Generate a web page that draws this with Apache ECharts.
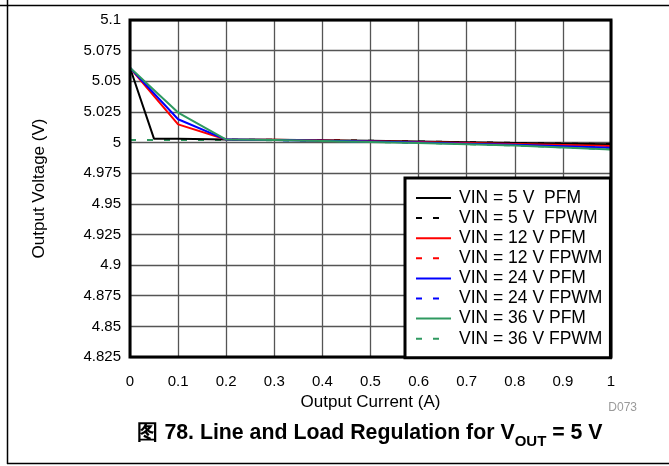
<!DOCTYPE html>
<html>
<head>
<meta charset="utf-8">
<script src="https://cdn.jsdelivr.net/npm/echarts@6/dist/echarts.min.js"></script>
<style>
  html, body { margin: 0; padding: 0; background: #fff; }
  #chart { width: 669px; height: 466px; }
</style>
</head>
<body>
<div id="chart"></div>
<script>
// Output current (A) sample points
const currentPfm5 = [0, 0.05, 0.1, 0.2, 0.3, 0.4, 0.5, 0.6, 0.7, 0.8, 0.9, 1.0];
const currentStd  = [0, 0.1, 0.2, 0.3, 0.4, 0.5, 0.6, 0.7, 0.8, 0.9, 1.0];

// Output voltage (V) for each input voltage and mode
const vin5Pfm   = [5.061, 5.003, 5.003, 5.0025, 5.0023, 5.0019, 5.0014, 5.0008, 5.0002, 4.9996, 4.9991, 4.9987];
const vin5Fpwm  = [5.002, 5.002, 5.0022, 5.0022, 5.002, 5.0015, 5.0009, 5.0003, 4.9997, 4.9992, 4.9987];
const vin12Pfm  = [5.061, 5.0148, 5.0025, 5.0022, 5.0017, 5.0011, 5.0004, 4.9997, 4.9989, 4.998, 4.9971];
const vin12Fpwm = [5.002, 5.002, 5.0022, 5.0021, 5.0018, 5.0012, 5.0005, 4.9998, 4.999, 4.9981, 4.9972];
const vin24Pfm  = [5.061, 5.019, 5.0024, 5.0021, 5.0015, 5.0008, 5.0, 4.9991, 4.9982, 4.9969, 4.9957];
const vin24Fpwm = [5.002, 5.002, 5.0022, 5.002, 5.0016, 5.0009, 5.0001, 4.9992, 4.9983, 4.997, 4.9958];
const vin36Pfm  = [5.061, 5.0245, 5.0024, 5.002, 5.0013, 5.0005, 4.9996, 4.9986, 4.9975, 4.996, 4.9944];
const vin36Fpwm = [5.002, 5.002, 5.0021, 5.0019, 5.0014, 5.0006, 4.9997, 4.9987, 4.9976, 4.9961, 4.9945];

// Axis ranges
const xTicks = { min: 0, max: 1, step: 0.1 };
const yTicks = { min: 4.825, max: 5.1, step: 0.025 };

const seriesNames = [
  'VIN = 5 V  PFM', 'VIN = 5 V  FPWM',
  'VIN = 12 V PFM', 'VIN = 12 V FPWM',
  'VIN = 24 V PFM', 'VIN = 24 V FPWM',
  'VIN = 36 V PFM', 'VIN = 36 V FPWM'
];

const pair = (xs, ys) => xs.map((x, i) => [x, ys[i]]);

const BLACK = '#000000', RED = '#ff0000', BLUE = '#0000ff', GREEN = '#2f9960';
const FONT = 'Liberation Sans';
const DASH = [6, 11];

function lineSeries(name, data, color, dashed, z) {
  return {
    name, type: 'line', data, symbol: 'none', z,
    lineStyle: { color, width: 2, type: dashed ? DASH : 'solid' },
    itemStyle: { color }
  };
}

// legend entries: dashed ones show exactly two dashes
const legendData = seriesNames.map((name, i) =>
  i % 2 === 1 ? { name, lineStyle: { type: [6, 11, 6, 40] } } : { name }
);

const chart = echarts.init(document.getElementById('chart'), null, { renderer: 'canvas' });

chart.setOption({
  animation: false,
  backgroundColor: '#fff',
  grid: {
    left: 130, right: 58, top: 20, bottom: 109,
    show: true, borderColor: '#000', borderWidth: 3, backgroundColor: 'transparent', z: 10
  },
  xAxis: {
    type: 'value', min: xTicks.min, max: xTicks.max, interval: xTicks.step,
    name: 'Output Current (A)', nameLocation: 'middle', nameGap: 32,
    nameTextStyle: { fontFamily: FONT, fontSize: 17, color: '#000' },
    axisLine: { show: false }, axisTick: { show: false },
    axisLabel: {
      fontFamily: FONT, fontSize: 15, color: '#000', margin: 17,
      formatter: v => String(+v.toFixed(1))
    },
    splitLine: { show: true, lineStyle: { color: '#555', width: 1.3 } }
  },
  yAxis: {
    type: 'value', min: yTicks.min, max: yTicks.max, interval: yTicks.step,
    name: 'Output Voltage (V)', nameLocation: 'middle', nameGap: 82,
    nameTextStyle: { fontFamily: FONT, fontSize: 17, color: '#000' },
    axisLine: { show: false }, axisTick: { show: false },
    axisLabel: {
      fontFamily: FONT, fontSize: 15, color: '#000', margin: 9,
      formatter: v => String(+v.toFixed(3))
    },
    splitLine: { show: true, lineStyle: { color: '#555', width: 1.3 } }
  },
  legend: {
    orient: 'vertical', left: 405, top: 178,
    data: legendData,
    backgroundColor: '#fff', borderColor: '#000', borderWidth: 3,
    padding: [11, 8, 10, 10],
    itemWidth: 35, itemHeight: 14, itemGap: 2.1,
    itemStyle: { opacity: 0 },
    lineStyle: { width: 2 },
    textStyle: { fontFamily: FONT, fontSize: 17.5, color: '#000', padding: [0, 0, 0, 3] },
    z: 20
  },
  series: [
    lineSeries(seriesNames[1], pair(currentStd, vin5Fpwm), BLACK, true, 2),
    lineSeries(seriesNames[3], pair(currentStd, vin12Fpwm), RED, true, 2),
    lineSeries(seriesNames[5], pair(currentStd, vin24Fpwm), BLUE, true, 2),
    lineSeries(seriesNames[7], pair(currentStd, vin36Fpwm), GREEN, true, 2),
    lineSeries(seriesNames[0], pair(currentPfm5, vin5Pfm), BLACK, false, 3),
    lineSeries(seriesNames[2], pair(currentStd, vin12Pfm), RED, false, 3),
    lineSeries(seriesNames[4], pair(currentStd, vin24Pfm), BLUE, false, 3),
    lineSeries(seriesNames[6], pair(currentStd, vin36Pfm), GREEN, false, 3)
  ],
  graphic: [
    // page frame
    { type: 'line', shape: { x1: 0, y1: 5.5, x2: 669, y2: 5.5 }, style: { stroke: '#000', lineWidth: 1.5 } },
    { type: 'line', shape: { x1: 7.5, y1: 0, x2: 7.5, y2: 464 }, style: { stroke: '#000', lineWidth: 1.5 } },
    { type: 'line', shape: { x1: 7, y1: 463.5, x2: 669, y2: 463.5 }, style: { stroke: '#000', lineWidth: 1.5 } },
    // figure id
    {
      type: 'text', x: 637, y: 408,
      style: { text: 'D073', fill: '#9a9a9a', font: '12px "Liberation Sans"', textAlign: 'right', textVerticalAlign: 'middle' }
    },
    // caption
    {
      type: 'text', x: 370, y: 436,
      style: {
        text: '{n|图 78. Line and Load Regulation for V}{s|OUT}{n| = 5 V}',
        textAlign: 'center', textVerticalAlign: 'middle',
        rich: {
          n: { fontFamily: FONT, fontWeight: 'bold', fontSize: 21.3, fill: '#000', color: '#000', verticalAlign: 'bottom', padding: [0, 0, 5, 0] },
          s: { fontFamily: FONT, fontWeight: 'bold', fontSize: 15, fill: '#000', color: '#000', verticalAlign: 'bottom' }
        }
      }
    }
  ]
});
</script>
</body>
</html>
